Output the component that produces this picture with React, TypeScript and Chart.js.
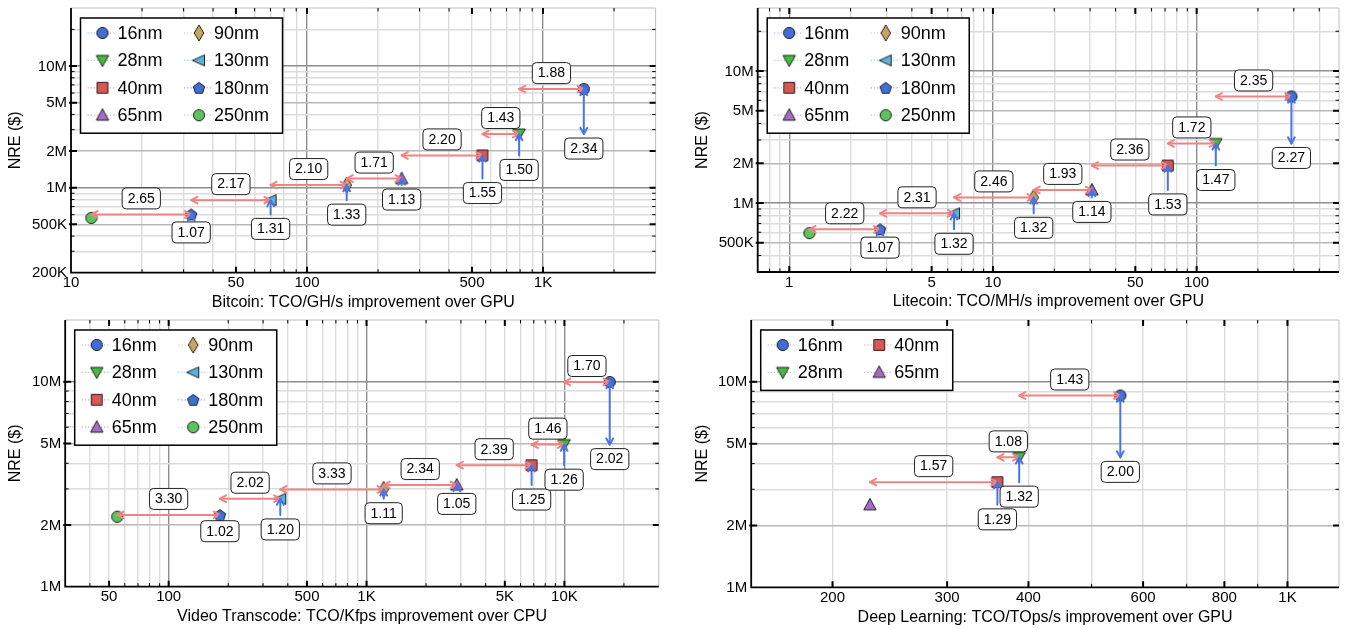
import React, { useEffect, useRef } from 'react';
import { Chart, registerables } from 'chart.js';

Chart.register(...registerables);

// ---------------- data ----------------
const nodes8 = ['16nm', '28nm', '40nm', '65nm', '90nm', '130nm', '180nm', '250nm'];
const nodes4 = ['16nm', '28nm', '40nm', '65nm'];

const bitcoinX = [1489, 792, 554, 251.8, 147.3, 70.1, 32.3, 12.2];
const bitcoinY = [6460000, 2760000, 1841000, 1188000, 1051000, 790000, 603000, 564000];
const bitcoinXGain = ['1.88', '1.43', '2.20', '1.71', '2.10', '2.17', '2.65'];
const bitcoinYGain = ['2.34', '1.50', '1.55', '1.13', '1.33', '1.31', '1.07'];
const bitcoinXTicks = [10, 50, 100, 500, 1000];
const bitcoinXLabels = ['10', '50', '100', '500', '1K'];
const bitcoinYTicks = [200000, 500000, 1000000, 2000000, 5000000, 10000000];
const bitcoinYLabels = ['200K', '500K', '1M', '2M', '5M', '10M'];

const litecoinX = [291.9, 124.2, 72.2, 30.6, 15.85, 6.44, 2.79, 1.256];
const litecoinY = [6410000, 2825000, 1922000, 1256000, 1102000, 835000, 632000, 591000];
const litecoinXGain = ['2.35', '1.72', '2.36', '1.93', '2.46', '2.31', '2.22'];
const litecoinYGain = ['2.27', '1.47', '1.53', '1.14', '1.32', '1.32', '1.07'];
const litecoinXTicks = [1, 5, 10, 50, 100];
const litecoinXLabels = ['1', '5', '10', '50', '100'];
const litecoinYTicks = [500000, 1000000, 2000000, 5000000, 10000000];
const litecoinYLabels = ['500K', '1M', '2M', '5M', '10M'];

const videoX = [16947, 9969, 6828, 2857, 1221, 366.6, 181.5, 55];
const videoY = [9965000, 4933000, 3915000, 3132000, 2983000, 2687000, 2239000, 2195000];
const videoXGain = ['1.70', '1.46', '2.39', '2.34', '3.33', '2.02', '3.30'];
const videoYGain = ['2.02', '1.26', '1.25', '1.05', '1.11', '1.20', '1.02'];
const videoXTicks = [50, 100, 500, 1000, 5000, 10000];
const videoXLabels = ['50', '100', '500', '1K', '5K', '10K'];
const videoYTicks = [1000000, 2000000, 5000000, 10000000];
const videoYLabels = ['1M', '2M', '5M', '10M'];

const deepX = [553.6, 387.1, 358.4, 228.3];
const deepY = [8580000, 4290000, 3250000, 2520000];
const deepXGain = ['1.43', '1.08', '1.57'];
const deepYGain = ['2.00', '1.32', '1.29'];
const deepXTicks = [200, 300, 400, 600, 800, 1000];
const deepXLabels = ['200', '300', '400', '600', '800', '1K'];
const deepYTicks = [1000000, 2000000, 5000000, 10000000];
const deepYLabels = ['1M', '2M', '5M', '10M'];

// ---------------- styles ----------------
const FONT = "'Liberation Sans', Arial, Helvetica, sans-serif";
const RED = '#f08484';
const BLUE = '#4a74e6';

const MARKERS: Record<string, { shape: string; fill: string; line: string }> = {
  '16nm': { shape: 'circle', fill: '#3f6fd4', line: 'rgba(63,111,212,0.6)' },
  '28nm': { shape: 'triDown', fill: '#46b946', line: 'rgba(70,185,70,0.55)' },
  '40nm': { shape: 'square', fill: '#d95757', line: 'rgba(217,87,87,0.6)' },
  '65nm': { shape: 'triUp', fill: '#a76cc6', line: 'rgba(167,108,198,0.6)' },
  '90nm': { shape: 'diamond', fill: '#c8a463', line: 'rgba(200,164,99,0.6)' },
  '130nm': { shape: 'triLeft', fill: '#5ab3d6', line: 'rgba(90,179,214,0.6)' },
  '180nm': { shape: 'pentagon', fill: '#3f6fd4', line: 'rgba(63,111,212,0.6)' },
  '250nm': { shape: 'circle', fill: '#5cc45c', line: 'rgba(92,196,92,0.55)' },
};

type Panel = {
  key: string;
  left: number; top: number; w: number; h: number;
  area: { l: number; r: number; t: number; b: number };
  xMin: number; xMax: number; yMin: number; yMax: number;
  nodes: string[]; xs: number[]; ys: number[]; xg: string[]; yg: string[];
  xTicks: number[]; xLabels: string[]; yTicks: number[]; yLabels: string[];
  xTitle: string; yTitleX: number;
};

const PANELS: Panel[] = [
  {
    key: 'btc', left: 0, top: 0, w: 670, h: 310,
    area: { l: 71, r: 655.6, t: 5, b: 272.7 },
    xMin: 10, xMax: 3000, yMin: 200000, yMax: 30000000,
    nodes: nodes8, xs: bitcoinX, ys: bitcoinY, xg: bitcoinXGain, yg: bitcoinYGain,
    xTicks: bitcoinXTicks, xLabels: bitcoinXLabels, yTicks: bitcoinYTicks, yLabels: bitcoinYLabels,
    xTitle: 'Bitcoin: TCO/GH/s improvement over GPU', yTitleX: 16,
  },
  {
    key: 'ltc', left: 670, top: 0, w: 677, h: 310,
    area: { l: 87.7, r: 675.4, t: 5.4, b: 272 },
    xMin: 0.7, xMax: 500, yMin: 300000, yMax: 30000000,
    nodes: nodes8, xs: litecoinX, ys: litecoinY, xg: litecoinXGain, yg: litecoinYGain,
    xTicks: litecoinXTicks, xLabels: litecoinXLabels, yTicks: litecoinYTicks, yLabels: litecoinYLabels,
    xTitle: 'Litecoin: TCO/MH/s improvement over GPU', yTitleX: 32.6,
  },
  {
    key: 'vid', left: 0, top: 310, w: 670, h: 319,
    area: { l: 65.2, r: 658.8, t: 10, b: 276.7 },
    xMin: 30, xMax: 30000, yMin: 1000000, yMax: 20000000,
    nodes: nodes8, xs: videoX, ys: videoY, xg: videoXGain, yg: videoYGain,
    xTicks: videoXTicks, xLabels: videoXLabels, yTicks: videoYTicks, yLabels: videoYLabels,
    xTitle: 'Video Transcode: TCO/Kfps improvement over CPU', yTitleX: 16,
  },
  {
    key: 'dl', left: 670, top: 310, w: 677, h: 319,
    area: { l: 81.2, r: 675, t: 10, b: 277.3 },
    xMin: 150, xMax: 1200, yMin: 1000000, yMax: 20000000,
    nodes: nodes4, xs: deepX, ys: deepY, xg: deepXGain, yg: deepYGain,
    xTicks: deepXTicks, xLabels: deepXLabels, yTicks: deepYTicks, yLabels: deepYLabels,
    xTitle: 'Deep Learning: TCO/TOps/s improvement over GPU', yTitleX: 32.6,
  },
];

// ---------------- helpers ----------------
function gridValues(min: number, max: number): number[] {
  const out: number[] = [];
  for (let d = Math.floor(Math.log10(min)) - 1; d <= Math.ceil(Math.log10(max)); d++) {
    for (let m = 1; m <= 9; m++) {
      const v = m * Math.pow(10, d);
      if (v > min * 1.0001 && v < max * 0.9999) out.push(v);
    }
  }
  return out;
}
const near = (a: number, b: number) => Math.abs(a - b) / b < 1e-6;
const isDecade = (v: number) => Math.abs(Math.log10(v) - Math.round(Math.log10(v))) < 1e-6;

function shapePath(g: CanvasRenderingContext2D, shape: string) {
  g.beginPath();
  switch (shape) {
    case 'circle': g.arc(0, 0, 5.6, 0, Math.PI * 2); break;
    case 'triDown': g.moveTo(-6.2, -5); g.lineTo(6.2, -5); g.lineTo(0, 6.2); g.closePath(); break;
    case 'square': g.rect(-5.4, -5.4, 10.8, 10.8); break;
    case 'triUp': g.moveTo(0, -6.5); g.lineTo(6.2, 5); g.lineTo(-6.2, 5); g.closePath(); break;
    case 'diamond': g.moveTo(0, -8); g.lineTo(4.8, 0); g.lineTo(0, 8); g.lineTo(-4.8, 0); g.closePath(); break;
    case 'triLeft': g.moveTo(-6.5, 0); g.lineTo(5.5, -5.5); g.lineTo(5.5, 5.5); g.closePath(); break;
    case 'pentagon':
      for (let k = 0; k < 5; k++) {
        const a = -Math.PI / 2 + (k * 2 * Math.PI) / 5;
        const px = 6 * Math.cos(a), py = 6 * Math.sin(a) + 0.6;
        if (k) g.lineTo(px, py); else g.moveTo(px, py);
      }
      g.closePath();
      break;
  }
}

const markerCache: Record<string, HTMLCanvasElement> = {};
function markerImage(node: string): HTMLCanvasElement {
  if (markerCache[node]) return markerCache[node];
  const c = document.createElement('canvas');
  c.width = 20; c.height = 20;
  const g = c.getContext('2d')!;
  g.translate(10, 10);
  shapePath(g, MARKERS[node].shape);
  g.fillStyle = MARKERS[node].fill;
  g.fill();
  g.lineWidth = 0.9;
  g.strokeStyle = '#111';
  g.stroke();
  markerCache[node] = c;
  return c;
}

function arrow(ctx: CanvasRenderingContext2D, x1: number, y1: number, x2: number, y2: number,
  color: string, headStart: boolean, headEnd: boolean) {
  ctx.save();
  ctx.strokeStyle = color;
  ctx.lineWidth = 2;
  ctx.lineCap = 'round';
  ctx.lineJoin = 'round';
  ctx.beginPath(); ctx.moveTo(x1, y1); ctx.lineTo(x2, y2); ctx.stroke();
  const head = (tx: number, ty: number, fx: number, fy: number) => {
    const a = Math.atan2(ty - fy, tx - fx);
    const L = 7, w = 0.5;
    ctx.beginPath();
    ctx.moveTo(tx - L * Math.cos(a - w), ty - L * Math.sin(a - w));
    ctx.lineTo(tx, ty);
    ctx.lineTo(tx - L * Math.cos(a + w), ty - L * Math.sin(a + w));
    ctx.stroke();
  };
  if (headEnd) head(x2, y2, x1, y1);
  if (headStart) head(x1, y1, x2, y2);
  ctx.restore();
}

function roundRectPath(ctx: CanvasRenderingContext2D, x: number, y: number, w: number, h: number, r: number) {
  ctx.beginPath();
  ctx.moveTo(x + r, y);
  ctx.lineTo(x + w - r, y);
  ctx.arcTo(x + w, y, x + w, y + r, r);
  ctx.lineTo(x + w, y + h - r);
  ctx.arcTo(x + w, y + h, x + w - r, y + h, r);
  ctx.lineTo(x + r, y + h);
  ctx.arcTo(x, y + h, x, y + h - r, r);
  ctx.lineTo(x, y + r);
  ctx.arcTo(x, y, x + r, y, r);
  ctx.closePath();
}

function gainBox(ctx: CanvasRenderingContext2D, text: string, cx: number, cy: number) {
  ctx.save();
  ctx.font = `14px ${FONT}`;
  const tw = ctx.measureText(text).width;
  const w = tw + 11, h = 21;
  roundRectPath(ctx, cx - w / 2, cy - h / 2, w, h, 4);
  ctx.fillStyle = '#fff';
  ctx.fill();
  ctx.lineWidth = 1;
  ctx.strokeStyle = '#222';
  ctx.stroke();
  ctx.fillStyle = '#000';
  ctx.textAlign = 'center';
  ctx.textBaseline = 'middle';
  ctx.fillText(text, cx, cy + 0.5);
  ctx.restore();
}

function decor(p: Panel) {
  return {
    id: 'decor_' + p.key,
    afterDatasetsDraw(chart: any) {
      const ctx: CanvasRenderingContext2D = chart.ctx;
      const xs = chart.scales.x, ys = chart.scales.y;
      for (let i = 0; i < p.xs.length - 1; i++) {
        const cx = xs.getPixelForValue(p.xs[i]);
        const cy = ys.getPixelForValue(p.ys[i]);
        const px = xs.getPixelForValue(p.xs[i + 1]);
        const py = ys.getPixelForValue(p.ys[i + 1]);
        arrow(ctx, px, cy, cx, cy, RED, true, true);
        arrow(ctx, cx, py, cx, cy, BLUE, i === 0, true);
      }
    },
    afterDraw(chart: any) {
      const ctx: CanvasRenderingContext2D = chart.ctx;
      const xs = chart.scales.x, ys = chart.scales.y;
      const { left, right, top, bottom } = chart.chartArea;
      ctx.save();
      // spines
      ctx.lineWidth = 1;
      ctx.strokeStyle = '#bdbdbd';
      ctx.beginPath();
      ctx.moveTo(left, top); ctx.lineTo(right, top); ctx.lineTo(right, bottom);
      ctx.stroke();
      ctx.lineWidth = 1.8;
      ctx.strokeStyle = '#000';
      ctx.beginPath();
      ctx.moveTo(left, top); ctx.lineTo(left, bottom); ctx.lineTo(right, bottom);
      ctx.stroke();
      // tick marks
      ctx.strokeStyle = '#000';
      for (const v of gridValues(p.yMin, p.yMax)) {
        const y = ys.getPixelForValue(v);
        const major = p.yTicks.some((t) => near(v, t));
        const L = major ? 6 : 3.5;
        ctx.lineWidth = major ? 2 : 1;
        ctx.beginPath();
        ctx.moveTo(left - (major ? 2 : 0), y); ctx.lineTo(left + L, y);
        ctx.moveTo(right - L, y); ctx.lineTo(right, y);
        ctx.stroke();
      }
      for (const v of gridValues(p.xMin, p.xMax)) {
        const x = xs.getPixelForValue(v);
        const major = p.xTicks.some((t) => near(v, t));
        const L = major ? 6 : 3.5;
        ctx.lineWidth = major ? 2 : 1;
        ctx.beginPath();
        ctx.moveTo(x, bottom); ctx.lineTo(x, bottom - L);
        ctx.moveTo(x, top); ctx.lineTo(x, top + L);
        ctx.stroke();
      }
      // tick labels
      ctx.fillStyle = '#000';
      ctx.font = `15px ${FONT}`;
      ctx.textAlign = 'right';
      ctx.textBaseline = 'middle';
      p.yTicks.forEach((v, i) => ctx.fillText(p.yLabels[i], left - 4, ys.getPixelForValue(v) + 0.5));
      ctx.textAlign = 'center';
      p.xTicks.forEach((v, i) => ctx.fillText(p.xLabels[i], xs.getPixelForValue(v), bottom + 10.5));
      // titles
      ctx.font = `16px ${FONT}`;
      ctx.fillText(p.xTitle, (left + right) / 2, bottom + 30);
      ctx.save();
      ctx.translate(p.yTitleX, (top + bottom) / 2);
      ctx.rotate(-Math.PI / 2);
      ctx.fillText('NRE ($)', 0, 0);
      ctx.restore();
      // gain labels
      for (let i = p.xs.length - 2; i >= 0; i--) {
        const cx = xs.getPixelForValue(p.xs[i]);
        const cy = ys.getPixelForValue(p.ys[i]);
        const py = ys.getPixelForValue(p.ys[i + 1]);
        const mx = xs.getPixelForValue(Math.sqrt(p.xs[i] * p.xs[i + 1]));
        gainBox(ctx, p.xg[i], mx, cy - 16);
        gainBox(ctx, p.yg[i], cx, py + 14.5);
      }
      // legend
      const rows = Math.ceil(p.nodes.length / 2);
      const lx = left + 9.5, ly = top + 10;
      ctx.font = `18px ${FONT}`;
      const col2 = p.nodes.slice(rows);
      const maxW = Math.max(...col2.map((n) => ctx.measureText(n).width));
      const lw = 133 + maxW + 14;
      const lh = 15 + (rows - 1) * 27.4 + 18;
      ctx.fillStyle = '#fff';
      ctx.fillRect(lx, ly, lw, lh);
      ctx.lineWidth = 1.5;
      ctx.strokeStyle = '#000';
      ctx.strokeRect(lx, ly, lw, lh);
      p.nodes.forEach((n, k) => {
        const col = Math.floor(k / rows), row = k % rows;
        const y = ly + 15 + row * 27.4;
        const mx = lx + 22 + col * 96.5;
        ctx.save();
        ctx.setLineDash([1.2, 2]);
        ctx.strokeStyle = MARKERS[n].line;
        ctx.lineWidth = 1.2;
        ctx.beginPath(); ctx.moveTo(mx - 15, y); ctx.lineTo(mx + 14, y); ctx.stroke();
        ctx.restore();
        ctx.drawImage(markerImage(n), mx - 10, y - 10);
        ctx.fillStyle = '#000';
        ctx.textAlign = 'left';
        ctx.textBaseline = 'middle';
        ctx.fillText(n, lx + 37 + col * 96.5, y + 1);
      });
      ctx.restore();
    },
  };
}

function buildConfig(p: Panel): any {
  const xgrid = gridValues(p.xMin, p.xMax);
  const ygrid = gridValues(p.yMin, p.yMax);
  const datasets = p.nodes.map((n, i) => ({
    label: n,
    data: [{ x: p.xs[i], y: p.ys[i] }],
    pointStyle: markerImage(n),
    pointRadius: 7,
    pointHoverRadius: 7,
    showLine: false,
  }));
  const gridColor = (v: number | undefined, labeled: number[]) => {
    if (v === undefined) return '#dcdcdc';
    if (isDecade(v)) return '#8e8e8e';
    if (labeled.some((t) => near(v, t))) return '#b8b8b8';
    return '#dcdcdc';
  };
  return {
    type: 'scatter',
    data: { datasets },
    options: {
      animation: false,
      responsive: false,
      events: [],
      layout: { padding: { left: 0, right: p.w - p.area.r, top: p.area.t, bottom: 0 } },
      plugins: { legend: { display: false }, tooltip: { enabled: false } },
      scales: {
        x: {
          type: 'logarithmic', position: 'bottom', min: p.xMin, max: p.xMax,
          afterBuildTicks: (s: any) => { s.ticks = xgrid.map((v) => ({ value: v })); },
          afterFit: (s: any) => { s.height = p.h - p.area.b; },
          ticks: { display: false },
          border: { display: false },
          grid: { drawTicks: false, lineWidth: 1.4, color: (c: any) => gridColor(c.tick?.value, []) },
        },
        y: {
          type: 'logarithmic', position: 'left', min: p.yMin, max: p.yMax,
          afterBuildTicks: (s: any) => { s.ticks = ygrid.map((v) => ({ value: v })); },
          afterFit: (s: any) => { s.width = p.area.l; },
          ticks: { display: false },
          border: { display: false },
          grid: { drawTicks: false, lineWidth: 1.4, color: (c: any) => gridColor(c.tick?.value, p.yTicks) },
        },
      },
    },
    plugins: [decor(p)],
  };
}

function PanelChart({ p }: { p: Panel }) {
  const ref = useRef<HTMLCanvasElement>(null);
  useEffect(() => {
    const canvas = ref.current;
    if (!canvas) return;
    const chart = new Chart(canvas, buildConfig(p));
    return () => chart.destroy();
  }, [p]);
  return (
    <canvas
      ref={ref}
      width={p.w}
      height={p.h}
      style={{ position: 'absolute', left: p.left, top: p.top, width: p.w, height: p.h, display: 'block' }}
    />
  );
}

export default function App() {
  return (
    <div style={{ position: 'absolute', left: 0, top: 0, width: 1347, height: 629, background: '#fff', overflow: 'hidden' }}>
      {PANELS.map((p) => (
        <PanelChart key={p.key} p={p} />
      ))}
    </div>
  );
}
